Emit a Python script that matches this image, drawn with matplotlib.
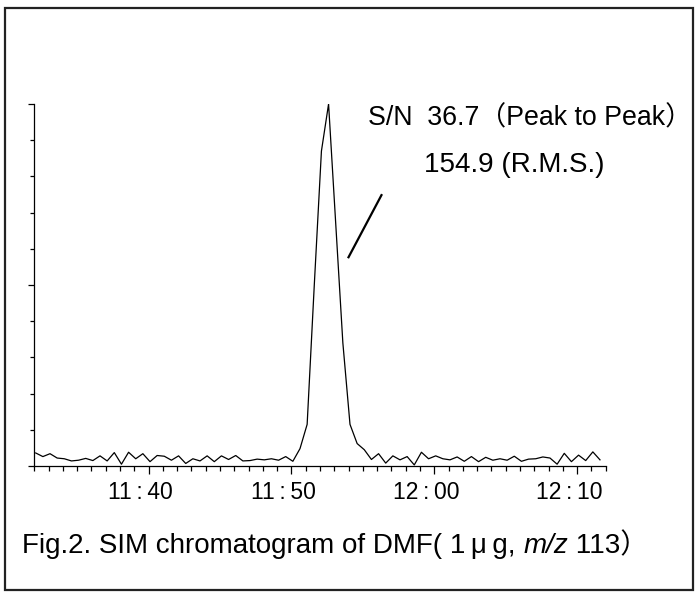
import matplotlib
matplotlib.use("Agg")
import matplotlib.pyplot as plt
from matplotlib.patches import Rectangle
import matplotlib.transforms as mtransforms

# ---- data (clock time in minutes since 0:00, intensity in % of peak) ----
times = [692.1, 692.6, 693.1, 693.6, 694.1, 694.6, 695.1, 695.6, 696.1, 696.6,
         697.1, 697.6, 698.1, 698.6, 699.1, 699.6, 700.1, 700.6, 701.1, 701.6,
         702.1, 702.6, 703.1, 703.6, 704.1, 704.6, 705.1, 705.6, 706.1, 706.6,
         707.1, 707.6, 708.1, 708.6, 709.1, 709.6, 710.1, 710.6, 711.1, 711.6,
         712.1, 712.6, 713.1, 713.6, 714.1, 714.6, 715.1, 715.6, 716.1, 716.6,
         717.1, 717.6, 718.1, 718.6, 719.1, 719.6, 720.1, 720.6, 721.1, 721.6,
         722.1, 722.6, 723.1, 723.6, 724.1, 724.6, 725.1, 725.6, 726.1, 726.6,
         727.1, 727.6, 728.1, 728.6, 729.1, 729.6, 730.1, 730.6, 731.1, 731.6]
intensity = [3.6, 2.6, 3.4, 2.2, 2.0, 1.4, 1.6, 2.1, 1.5, 2.8,
             1.4, 3.7, 0.5, 3.8, 2.0, 3.4, 1.2, 2.9, 2.7, 1.6,
             2.8, 0.7, 2.0, 1.4, 2.8, 1.2, 2.8, 1.8, 2.9, 1.4,
             1.5, 1.9, 1.7, 2.0, 1.6, 2.6, 1.3, 4.8, 11.5, 50.0,
             87.0, 100.0, 67.0, 34.0, 11.5, 6.2, 4.5, 1.8, 3.4, 0.8,
             2.8, 1.7, 2.6, 0.3, 3.8, 2.0, 2.8, 2.0, 1.7, 2.5,
             1.3, 2.6, 1.2, 2.4, 1.6, 2.0, 1.6, 2.7, 1.3, 1.9,
             2.0, 2.5, 2.2, 0.5, 3.5, 1.2, 3.0, 1.5, 3.9, 1.7]
xtick_pos = [700, 710, 720, 730]
xtick_labels = ["11\u2009:\u200940", "11\u2009:\u200950", "12\u2009:\u200900", "12\u2009:\u200910"]
leader_x = [713.96, 716.34]
leader_y = [57.4, 75.1]
sn_text = "S/N  36.7\uff08Peak to Peak\uff09"
rms_text = "154.9 (R.M.S.)"
caption_a = "Fig.2. SIM chromatogram of DMF( 1\u2009\u03bc\u2009g, "
caption_b = "m/z"
caption_c = " 113\uff09"

FONTS = ["Liberation Sans", "Noto Sans CJK JP", "DejaVu Sans"]
plt.rcParams["font.family"] = FONTS

W, H = 699, 598
fig = plt.figure(figsize=(W / 100, H / 100), dpi=100)
ax = fig.add_axes([34.3 / W, 1 - 466 / H, (605.7 - 34.3) / W, (466 - 104) / H])

ax.plot(times, intensity, color="black", lw=0.9)
ax.plot(leader_x, leader_y, color="black", lw=1.6, solid_capstyle="butt")

ax.set_xlim(692, 732)
ax.set_ylim(0, 100)
for s in ["top", "right"]:
    ax.spines[s].set_visible(False)
for s in ["left", "bottom"]:
    ax.spines[s].set_linewidth(0.9)

ax.set_xticks(xtick_pos)
ax.set_xticklabels(xtick_labels, fontsize=16.5)
ax.set_xticks(list(range(692, 733)), minor=True)
ax.tick_params(axis="x", which="major", length=6, width=0.9, direction="out", pad=5)
ax.tick_params(axis="x", which="minor", length=3.5, width=0.9, direction="out")
offset = mtransforms.ScaledTranslation(-8 / 100, 0, fig.dpi_scale_trans)
for lbl in ax.get_xticklabels():
    lbl.set_transform(lbl.get_transform() + offset)

ax.set_yticks([0, 50, 100])
ax.set_yticklabels([])
ax.set_yticks(list(range(0, 101, 10)), minor=True)
ax.tick_params(axis="y", which="major", length=4.5, width=0.9, direction="out")
ax.tick_params(axis="y", which="minor", length=3, width=0.9, direction="out")

ax.text(715.34, 95.9, sn_text, fontsize=19.3, va="center", ha="left", clip_on=False)
ax.text(719.3, 83.1, rms_text, fontsize=20, va="center", ha="left", clip_on=False)

# outer frame
fig.patches.append(Rectangle((4.5 / W, 1 - 590 / H), (692.5 - 4.5) / W, (590 - 7.5) / H,
                             transform=fig.transFigure, fill=False, lw=1.6,
                             edgecolor="#222222"))

# caption built from pieces
renderer = fig.canvas.get_renderer()
x0 = 22 / W
yc = 1 - 546 / H
t1 = fig.text(x0, yc, caption_a, fontsize=20, va="center", ha="left")
bb = t1.get_window_extent(renderer)
t2 = fig.text(bb.x1 / W, yc, caption_b, fontsize=20, va="center", ha="left", style="italic")
bb2 = t2.get_window_extent(renderer)
t3 = fig.text(bb2.x1 / W, yc, caption_c, fontsize=20, va="center", ha="left")

fig.savefig("out.png", dpi=100)
